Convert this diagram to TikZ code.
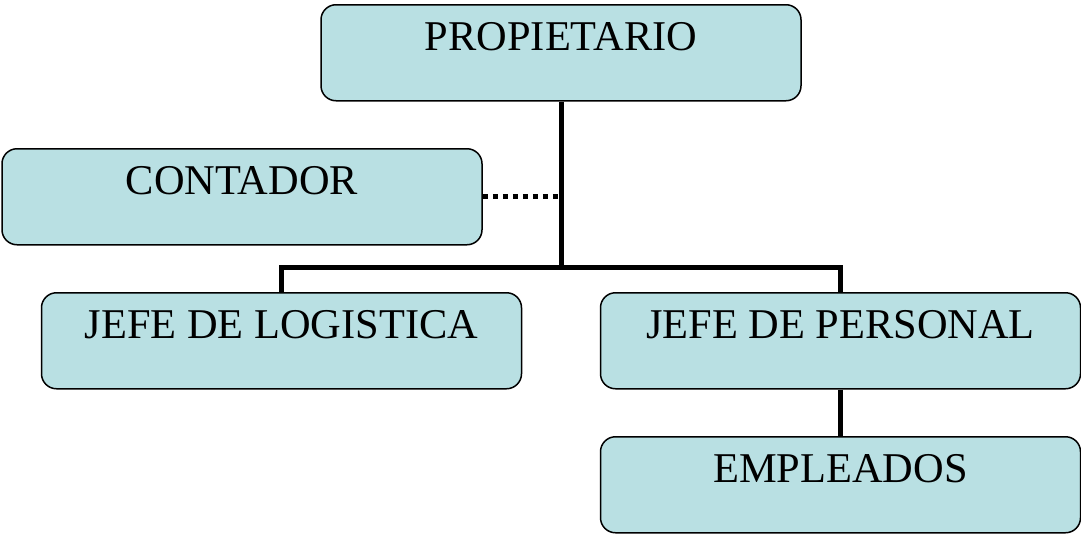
\documentclass[tikz,border=0pt]{standalone}
\usepackage{fontspec}
\setmainfont{Liberation Serif}
\definecolor{boxfill}{RGB}{185,224,227}

\begin{document}
\begin{tikzpicture}[x=1pt,y=-1pt,
   orgbox/.style={draw,fill=boxfill,line width=1.5pt,rounded corners=15pt,
      minimum width=480pt,text height=27pt,text depth=31pt,inner ysep=19pt,
      anchor=north,font=\fontsize{42.4}{50}\selectfont},
   tie/.style={line width=5pt},
   aside/.style={line width=5pt,dash pattern=on 5pt off 5pt}]
\useasboundingbox (0,0) rectangle (1081,533);

\node[orgbox] (prop) at (561,4) {PROPIETARIO};
\node[orgbox] (cont) at (242,148) {CONTADOR};
\node[orgbox] (logi) at (281.5,292) {JEFE DE LOGISTICA};
\node[orgbox] (pers) at (840.5,292) {JEFE DE PERSONAL};
\node[orgbox] (empl) at (840.5,436) {EMPLEADOS};

\coordinate (bus) at (561,267);
\draw[tie] (prop.south) -- (bus);
\draw[tie] (bus) -| (logi.north);
\draw[tie] (bus) -| (pers.north);
\draw[tie] (pers.south) -- (empl.north);
\draw[aside] (cont.east) -- (cont.east -| bus);

\end{tikzpicture}
\end{document}
